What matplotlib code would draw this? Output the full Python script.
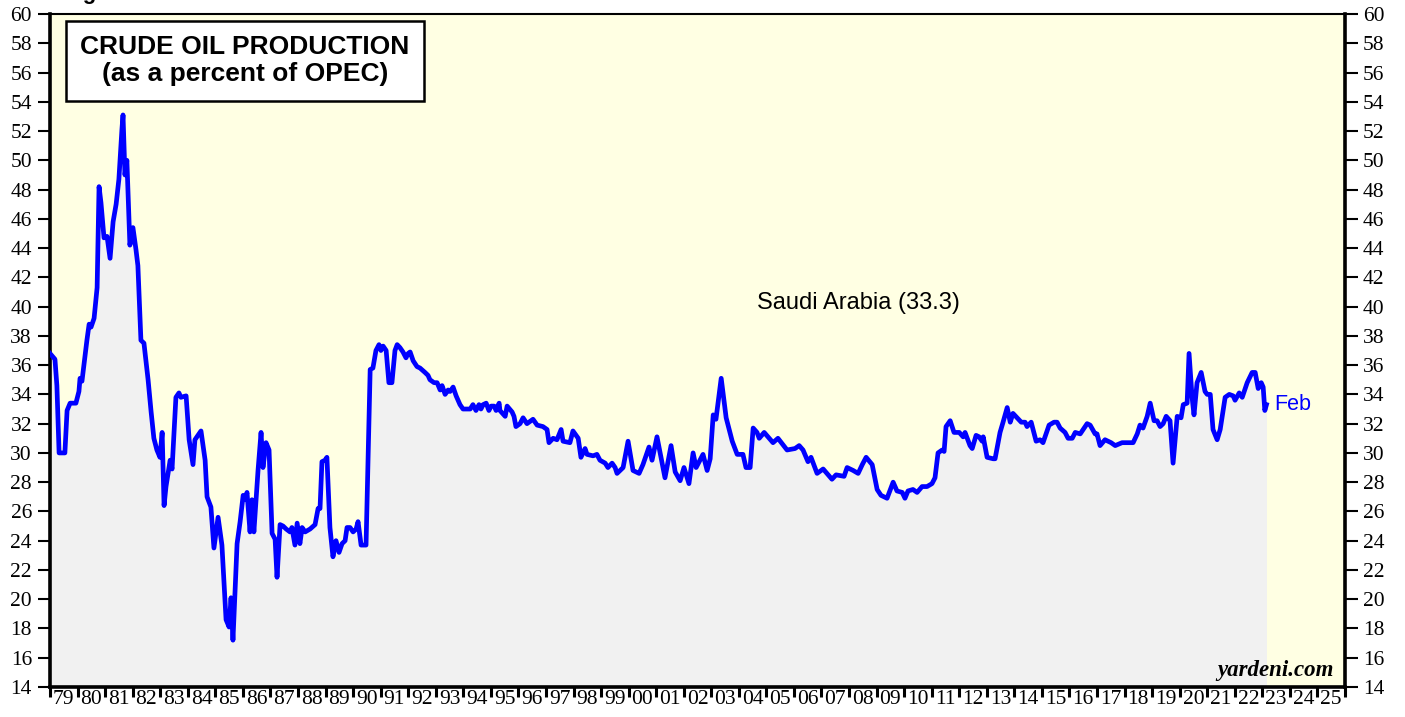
import matplotlib
matplotlib.use("Agg")
from matplotlib import pyplot as plt
import numpy as np

# Saudi Arabia share of OPEC crude output (decimal year, percent)
years = [
    1979.00, 1979.18, 1979.25, 1979.33, 1979.54, 1979.62, 1979.73, 1979.94, 1980.05, 1980.09,
    1980.16, 1980.23, 1980.34, 1980.42, 1980.49, 1980.60, 1980.71, 1980.78, 1980.85, 1980.96,
    1981.07, 1981.18, 1981.29, 1981.40, 1981.50, 1981.61, 1981.65, 1981.72, 1981.79, 1981.90,
    1982.01, 1982.12, 1982.19, 1982.30, 1982.41, 1982.56, 1982.67, 1982.77, 1982.88, 1982.99,
    1983.07, 1983.14, 1983.21, 1983.36, 1983.43, 1983.57, 1983.68, 1983.75, 1983.94, 1984.05,
    1984.19, 1984.26, 1984.48, 1984.63, 1984.70, 1984.84, 1984.95, 1985.10, 1985.24, 1985.39,
    1985.50, 1985.57, 1985.64, 1985.79, 1985.90, 1986.01, 1986.08, 1986.15, 1986.26, 1986.33,
    1986.40, 1986.55, 1986.66, 1986.73, 1986.84, 1986.95, 1987.06, 1987.17, 1987.24, 1987.35,
    1987.46, 1987.57, 1987.71, 1987.78, 1987.89, 1987.97, 1988.07, 1988.15, 1988.26, 1988.44,
    1988.62, 1988.73, 1988.80, 1988.87, 1988.98, 1989.05, 1989.16, 1989.27, 1989.38, 1989.49,
    1989.60, 1989.71, 1989.78, 1989.89, 1990.00, 1990.11, 1990.18, 1990.29, 1990.47, 1990.62,
    1990.72, 1990.83, 1990.94, 1991.01, 1991.09, 1991.20, 1991.30, 1991.41, 1991.52, 1991.60,
    1991.70, 1991.81, 1991.92, 1992.00, 1992.07, 1992.18, 1992.32, 1992.43, 1992.61, 1992.72,
    1992.79, 1992.94, 1993.05, 1993.16, 1993.23, 1993.34, 1993.45, 1993.52, 1993.63, 1993.74,
    1993.88, 1993.99, 1994.25, 1994.35, 1994.46, 1994.57, 1994.64, 1994.72, 1994.83, 1994.93,
    1995.01, 1995.12, 1995.19, 1995.30, 1995.33, 1995.52, 1995.59, 1995.77, 1995.84, 1995.91,
    1996.06, 1996.17, 1996.31, 1996.53, 1996.68, 1996.89, 1997.04, 1997.11, 1997.26, 1997.40,
    1997.55, 1997.62, 1997.87, 1997.98, 1998.17, 1998.27, 1998.42, 1998.49, 1998.71, 1998.85,
    1998.96, 1999.15, 1999.25, 1999.40, 1999.51, 1999.58, 1999.80, 1999.98, 2000.16, 2000.38,
    2000.52, 2000.74, 2000.85, 2001.03, 2001.32, 2001.54, 2001.69, 2001.87, 2002.01, 2002.19,
    2002.34, 2002.45, 2002.70, 2002.85, 2002.96, 2003.07, 2003.17, 2003.36, 2003.54, 2003.76,
    2003.94, 2004.15, 2004.26, 2004.41, 2004.52, 2004.66, 2004.74, 2004.92, 2005.24, 2005.42,
    2005.75, 2006.04, 2006.19, 2006.33, 2006.51, 2006.62, 2006.84, 2007.06, 2007.38, 2007.53,
    2007.82, 2007.93, 2008.15, 2008.33, 2008.48, 2008.62, 2008.84, 2009.02, 2009.16, 2009.38,
    2009.60, 2009.74, 2009.93, 2010.03, 2010.14, 2010.32, 2010.47, 2010.65, 2010.83, 2011.01,
    2011.12, 2011.23, 2011.38, 2011.45, 2011.52, 2011.67, 2011.81, 2012.00, 2012.14, 2012.21,
    2012.39, 2012.47, 2012.61, 2012.72, 2012.83, 2012.87, 2013.01, 2013.23, 2013.30, 2013.48,
    2013.59, 2013.74, 2013.85, 2013.95, 2014.10, 2014.25, 2014.39, 2014.46, 2014.61, 2014.79,
    2014.93, 2015.04, 2015.26, 2015.44, 2015.55, 2015.66, 2015.84, 2015.95, 2016.10, 2016.21,
    2016.39, 2016.64, 2016.75, 2016.93, 2017.00, 2017.11, 2017.29, 2017.51, 2017.66, 2017.91,
    2018.31, 2018.46, 2018.56, 2018.67, 2018.82, 2018.93, 2019.07, 2019.18, 2019.29, 2019.40,
    2019.51, 2019.65, 2019.76, 2019.91, 2020.05, 2020.13, 2020.27, 2020.34, 2020.45, 2020.52,
    2020.63, 2020.78, 2020.92, 2021.00, 2021.11, 2021.21, 2021.36, 2021.47, 2021.65, 2021.80,
    2021.94, 2022.01, 2022.16, 2022.27, 2022.45, 2022.63, 2022.74, 2022.85, 2022.96, 2023.03,
    2023.09, 2023.15,
]
saudi = [
    36.8, 36.4, 34.6, 30.0, 30.0, 32.9, 33.4, 33.4, 34.2, 35.1,
    34.9, 36.0, 37.7, 38.8, 38.6, 39.2, 41.3, 48.2, 47.1, 44.7,
    44.8, 43.3, 45.8, 47.0, 48.7, 52.1, 53.1, 49.0, 50.0, 44.2,
    45.4, 43.9, 42.8, 37.7, 37.5, 35.0, 32.8, 31.0, 30.2, 29.7,
    31.4, 26.4, 27.7, 29.5, 28.9, 33.8, 34.1, 33.8, 33.9, 30.9,
    29.2, 30.9, 31.5, 29.5, 27.0, 26.3, 23.5, 25.6, 23.7, 18.6,
    18.1, 20.1, 17.2, 23.8, 25.3, 27.1, 26.8, 27.3, 24.6, 26.8,
    24.6, 28.8, 31.4, 29.0, 30.7, 30.2, 24.5, 24.1, 21.5, 25.1,
    25.0, 24.8, 24.6, 24.9, 23.7, 25.2, 23.8, 24.9, 24.6, 24.8,
    25.1, 26.2, 26.2, 29.4, 29.5, 29.7, 24.9, 22.9, 24.0, 23.2,
    23.8, 24.0, 24.9, 24.9, 24.6, 24.8, 25.3, 23.7, 23.7, 35.7,
    35.8, 37.0, 37.4, 37.0, 37.3, 37.0, 34.8, 34.8, 37.0, 37.4,
    37.2, 36.9, 36.5, 36.8, 36.9, 36.3, 35.9, 35.8, 35.5, 35.3,
    35.0, 34.8, 34.8, 34.3, 34.6, 34.0, 34.3, 34.2, 34.5, 33.9,
    33.3, 33.0, 33.0, 33.3, 32.9, 33.3, 33.0, 33.3, 33.4, 32.9,
    33.2, 33.2, 32.9, 33.4, 32.9, 32.5, 33.2, 32.8, 32.5, 31.8,
    32.0, 32.4, 32.0, 32.3, 31.9, 31.8, 31.6, 30.7, 31.0, 30.9,
    31.6, 30.8, 30.7, 31.5, 31.0, 29.7, 30.3, 29.9, 29.8, 29.9,
    29.5, 29.3, 29.0, 29.3, 29.0, 28.6, 29.0, 30.8, 28.8, 28.6,
    29.2, 30.4, 29.5, 31.1, 28.3, 30.5, 28.7, 28.1, 29.0, 27.9,
    30.0, 29.0, 29.9, 28.8, 29.6, 32.6, 32.3, 35.1, 32.4, 30.8,
    29.9, 29.9, 29.0, 29.0, 31.7, 31.4, 31.0, 31.4, 30.7, 31.0,
    30.2, 30.3, 30.5, 30.2, 29.4, 29.7, 28.6, 28.9, 28.2, 28.5,
    28.4, 29.0, 28.8, 28.6, 29.2, 29.7, 29.2, 27.5, 27.1, 26.9,
    28.0, 27.4, 27.3, 26.9, 27.4, 27.5, 27.3, 27.7, 27.7, 27.9,
    28.3, 30.0, 30.2, 30.1, 31.8, 32.2, 31.4, 31.4, 31.1, 31.4,
    30.5, 30.3, 31.2, 31.1, 30.8, 31.1, 29.7, 29.6, 29.6, 31.4,
    32.1, 33.1, 32.1, 32.7, 32.4, 32.1, 32.1, 31.8, 32.1, 30.8,
    30.9, 30.7, 31.9, 32.1, 32.1, 31.7, 31.4, 31.0, 31.0, 31.4,
    31.3, 32.0, 31.9, 31.3, 31.3, 30.5, 30.9, 30.7, 30.5, 30.7,
    30.7, 31.3, 31.9, 31.7, 32.5, 33.4, 32.2, 32.2, 31.8, 32.0,
    32.5, 32.2, 29.3, 32.5, 32.4, 33.3, 33.4, 36.8, 33.8, 32.6,
    34.8, 35.5, 34.2, 34.0, 34.0, 31.6, 30.9, 31.6, 33.8, 34.0,
    33.9, 33.6, 34.1, 33.8, 34.8, 35.5, 35.5, 34.4, 34.8, 34.5,
    32.9, 33.3,
]

x_years = np.arange(1979, 2027)
x_labels = ["%02d" % (y % 100) for y in x_years[:-1]]
y_ticks = np.arange(14, 61, 2)

fig = plt.figure(figsize=(14.05, 7.17), dpi=100)
ax = fig.add_axes([50 / 1405, 1 - 687 / 717, 1295 / 1405, 673 / 717])
ax.set_facecolor("#ffffe3")

ax.fill_between(years, saudi, 14, color="#f1f1f1", lw=0, zorder=1)
ax.plot(years, saudi, color="#0000ff", lw=3.4, solid_joinstyle="round", zorder=3)

ax.set_xlim(1979, 2026)
ax.set_ylim(14, 60)

# years: tick marks on the boundaries, labels in the middle
ax.set_xticks(x_years)
ax.set_xticklabels([])
ax.set_xticks(x_years[:-1] + 0.5, minor=True)
ax.set_xticklabels(x_labels, minor=True, family="Liberation Serif", fontsize=15.5)
ax.tick_params(axis="x", which="major", direction="out", length=7, width=2.2)
ax.tick_params(axis="x", which="minor", length=0, pad=2)

ax.set_yticks(y_ticks)
ax.set_yticklabels([str(v) for v in y_ticks], family="Liberation Serif", fontsize=15.5)
ax.tick_params(axis="y", which="both", direction="out", length=9, width=1.5,
               left=True, right=True, labelleft=True, labelright=True, pad=4)

for side in ["left", "bottom", "right"]:
    ax.spines[side].set_linewidth(2.6)
ax.spines["top"].set_linewidth(1.5)

ax.text(1986.08, 56.8, "CRUDE OIL PRODUCTION\n(as a percent of OPEC)", ha="center", va="center",
        family="Liberation Sans", fontweight="bold", fontsize=19, linespacing=1.15,
        bbox=dict(boxstyle="square,pad=0.55", fc="white", ec="black", lw=1.8), zorder=5)

ax.text(2008.33, 40.25, "Saudi Arabia (33.3)", ha="center", va="center",
        family="Liberation Sans", fontsize=17, color="black")
ax.text(2023.45, 33.3, "Feb", ha="left", va="center",
        family="Liberation Sans", fontsize=15.5, color="#0000ff")
ax.text(2025.6, 15.1, "yardeni.com", ha="right", va="center",
        family="Liberation Serif", fontweight="bold", style="italic", fontsize=16.5)

# header of the page, cut off at the top edge
fig.text(0.045, 1.0 + 1 / 717, "Figure", ha="left", va="baseline",
         family="Liberation Sans", fontweight="bold", fontsize=16)

fig.savefig("out.png", dpi=100)
